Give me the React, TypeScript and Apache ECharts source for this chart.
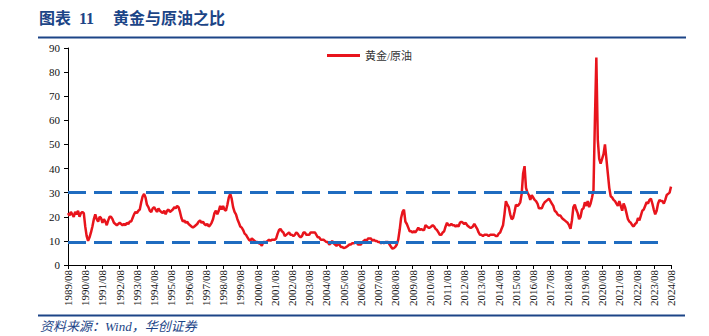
import React, { useEffect, useRef } from "react";
import * as echarts from "echarts";

// Monthly gold/oil ratio, starting 1989/08, ending 2024/08 (rows run Aug..Jul)
const ratioValues: number[] = [
  21.5, 20.5, 22, 21, 20, 22, 21, 22.5, 20, 21.5, 22, 21.5, // 1989/08
  16, 12, 10, 11.5, 13.5, 16, 19, 21, 19, 18, 20, 19.5, // 1990/08
  17.5, 19, 18, 16.5, 18.5, 20, 20, 19, 17.5, 17, 16.5, 17, // 1991/08
  17.5, 17, 16.5, 17, 16.5, 17.5, 17, 18, 18, 19.5, 21, 22, // 1992/08
  21.5, 22.5, 23, 26, 28.5, 29.5, 28, 25, 24, 22.5, 22, 23.5, // 1993/08
  24, 23, 22, 23.5, 22.5, 22, 21.5, 22.5, 21, 22.5, 23, 22, // 1994/08
  22.5, 23, 24, 23.5, 24.5, 24, 22, 19.5, 18, 18.5, 17.5, 18, // 1995/08
  17, 16.5, 16, 15.5, 16, 16.5, 17, 18, 18.5, 17.5, 18, 17, // 1996/08
  16.5, 17, 16, 16.5, 17.5, 19, 21.5, 22.5, 21, 22.5, 24.5, 23, // 1997/08
  24.5, 23, 22.5, 25, 28, 29.5, 27.5, 24, 22, 21, 19, 17.5, // 1998/08
  16, 15.5, 14.5, 13, 12.5, 11.5, 10.5, 10, 11, 10.5, 10, 9.5, // 1999/08
  9.5, 9, 8.8, 8, 9.5, 9.5, 9.5, 10, 10.5, 10, 10.5, 10.5, // 2000/08
  10.5, 11, 13, 14.5, 15, 14, 13.5, 12, 12.5, 13, 13.5, 12.5, // 2001/08
  12.5, 12, 12.5, 13.5, 13, 12, 11.5, 12, 13.5, 13.5, 12.5, 12.5, // 2002/08
  12.5, 13.5, 13.5, 13.5, 13.5, 12.5, 11.5, 11.5, 10.5, 10.5, 10.5, 10, // 2003/08
  9.5, 9.5, 8.5, 9, 10, 9, 8.5, 8, 8.5, 8.5, 7.5, 7.5, // 2004/08
  7, 7.2, 7.5, 8, 8.5, 8.5, 9, 9, 9.2, 9.5, 8.5, 8.5, // 2005/08
  8.5, 9.5, 10, 10.5, 10, 11, 11, 11, 10, 10.5, 10, 10, // 2006/08
  9.5, 9.5, 9, 9.5, 9, 9.5, 9.5, 9.5, 8.5, 7.5, 6.8, 7, // 2007/08
  7.5, 8.5, 10.5, 14.5, 19.5, 22, 23, 18, 17, 15.5, 14, 14, // 2008/08
  13.5, 14, 13.5, 14.5, 15.5, 14.5, 15, 14.5, 14.5, 16.5, 16, 15.5, // 2009/08
  15.5, 16, 16.5, 16, 15, 14.5, 13.5, 12.5, 12.5, 13.5, 14, 16, // 2010/08
  17.5, 16.5, 16.5, 17, 16.5, 16.5, 16, 16.5, 16, 17.5, 18, 17.5, // 2011/08
  17, 17.5, 16.5, 16, 15.5, 15.5, 16, 17, 16, 15, 13.5, 12.5, // 2012/08
  12.5, 12, 12.5, 12.5, 12.5, 12, 12.5, 12.5, 12.5, 12.5, 12, 12, // 2013/08
  13, 13.5, 15, 16.5, 21, 26.5, 25, 24, 21, 19, 19.5, 22, // 2014/08
  25, 24.5, 25, 26, 29.5, 38, 41, 32, 30, 29, 27, 29, // 2015/08
  28, 27, 26.5, 25.5, 23.5, 23.5, 23.5, 25, 26, 26.5, 27, 27.5, // 2016/08
  26.5, 25.5, 24.5, 22.5, 22, 21, 20.5, 20.5, 19.5, 19, 18.5, 18, // 2017/08
  17.5, 16.5, 15, 18.5, 24, 25, 23, 21.5, 19, 20, 23, 23.5, // 2018/08
  26, 24.5, 26.5, 24, 25.5, 28, 31, 60, 86, 52, 44, 42, // 2019/08
  44, 46, 50, 44, 38, 32, 28.5, 28, 27, 26.5, 25.5, 24.5, // 2020/08
  26.5, 24.5, 22.5, 25.5, 24, 21.5, 19, 18, 17.5, 16.5, 16, 17, // 2021/08
  17.5, 19.5, 18.5, 20.5, 22.5, 23, 24.5, 26, 25.5, 27, 27.5, 25.5, // 2022/08
  23, 21, 22.5, 25.5, 27, 26.5, 26.5, 25.5, 27, 29, 29.5, 30, // 2023/08
  32.5, // 2024/08
];

const upperBand = 30.3;
const lowerBand = 9.3;
const bandEndMonth = "2024/03";
const seriesName = "黄金/原油";
const startYear = 1989;
const startMonth = 8;

const months: string[] = ratioValues.map((_, i) => {
  const total = startMonth - 1 + i;
  const y = startYear + Math.floor(total / 12);
  const m = (total % 12) + 1;
  return `${y}/${m < 10 ? "0" + m : m}`;
});

const DARK_BLUE = "#1c4587";
const SERIF = "'Liberation Serif', 'Times New Roman', 'Noto Sans CJK SC', serif";

export default function App() {
  const ref = useRef<HTMLDivElement>(null);
  useEffect(() => {
    document.body.style.margin = "0";
    if (!ref.current) return;
    const chart = echarts.init(ref.current, undefined, { renderer: "svg" });
    chart.setOption({
      animation: false,
      backgroundColor: "#ffffff",
      grid: { left: 68, right: 38, top: 48, bottom: 71, containLabel: false },
      legend: {
        data: [{ name: seriesName, icon: "rect" }],
        left: 322,
        top: 45,
        itemWidth: 33,
        itemHeight: 3,
        itemGap: 4,
        textStyle: { fontFamily: SERIF, fontSize: 11, color: "#333" },
      },
      xAxis: {
        type: "category",
        data: months,
        boundaryGap: false,
        axisLine: { lineStyle: { color: "#000", width: 1 } },
        axisTick: { interval: 11, length: 4, lineStyle: { color: "#000" } },
        axisLabel: {
          interval: 11,
          rotate: 90,
          margin: 5,
          fontFamily: SERIF,
          fontSize: 11,
          color: "#111",
        },
        splitLine: { show: false },
      },
      yAxis: {
        type: "value",
        min: 0,
        max: 90,
        interval: 10,
        axisLine: { show: true, lineStyle: { color: "#000", width: 1 } },
        axisTick: { show: true, length: 4, lineStyle: { color: "#000" } },
        axisLabel: { fontFamily: SERIF, fontSize: 11, color: "#111", margin: 8 },
        splitLine: { show: false },
      },
      series: [
        {
          name: seriesName,
          type: "line",
          data: ratioValues,
          showSymbol: false,
          symbol: "none",
          lineStyle: { color: "#e8141c", width: 2.5 },
          itemStyle: { color: "#e8141c" },
          z: 3,
        },
        {
          name: "bands",
          type: "line",
          data: [],
          z: 4,
          markLine: {
            silent: true,
            symbol: "none",
            label: { show: false },
            lineStyle: { color: "#1f6cc0", width: 3, type: [18, 8] },
            data: [
              [
                { xAxis: months[0], yAxis: upperBand },
                { xAxis: bandEndMonth, yAxis: upperBand },
              ],
              [
                { xAxis: months[0], yAxis: lowerBand },
                { xAxis: bandEndMonth, yAxis: lowerBand },
              ],
            ],
          },
        },
      ],
      graphic: [
        {
          type: "text",
          left: 39,
          top: 10,
          style: { text: "图表  11", font: `bold 16px ${SERIF}`, fill: DARK_BLUE },
        },
        {
          type: "text",
          left: 113,
          top: 10,
          style: { text: "黄金与原油之比", font: `bold 16px ${SERIF}`, fill: DARK_BLUE },
        },
        {
          type: "line",
          shape: { x1: 38, y1: 37.5, x2: 686, y2: 37.5 },
          style: { stroke: DARK_BLUE, lineWidth: 2 },
        },
        {
          type: "line",
          shape: { x1: 38, y1: 315.5, x2: 685, y2: 315.5 },
          style: { stroke: DARK_BLUE, lineWidth: 2 },
        },
        {
          type: "text",
          left: 40,
          top: 320,
          style: {
            text: "资料来源：Wind，华创证券",
            font: `italic 13px ${SERIF}`,
            fill: DARK_BLUE,
          },
        },
      ],
    });
    return () => chart.dispose();
  }, []);
  return (
    <div
      ref={ref}
      style={{ position: "fixed", left: 0, top: 0, width: 709, height: 336 }}
    />
  );
}
